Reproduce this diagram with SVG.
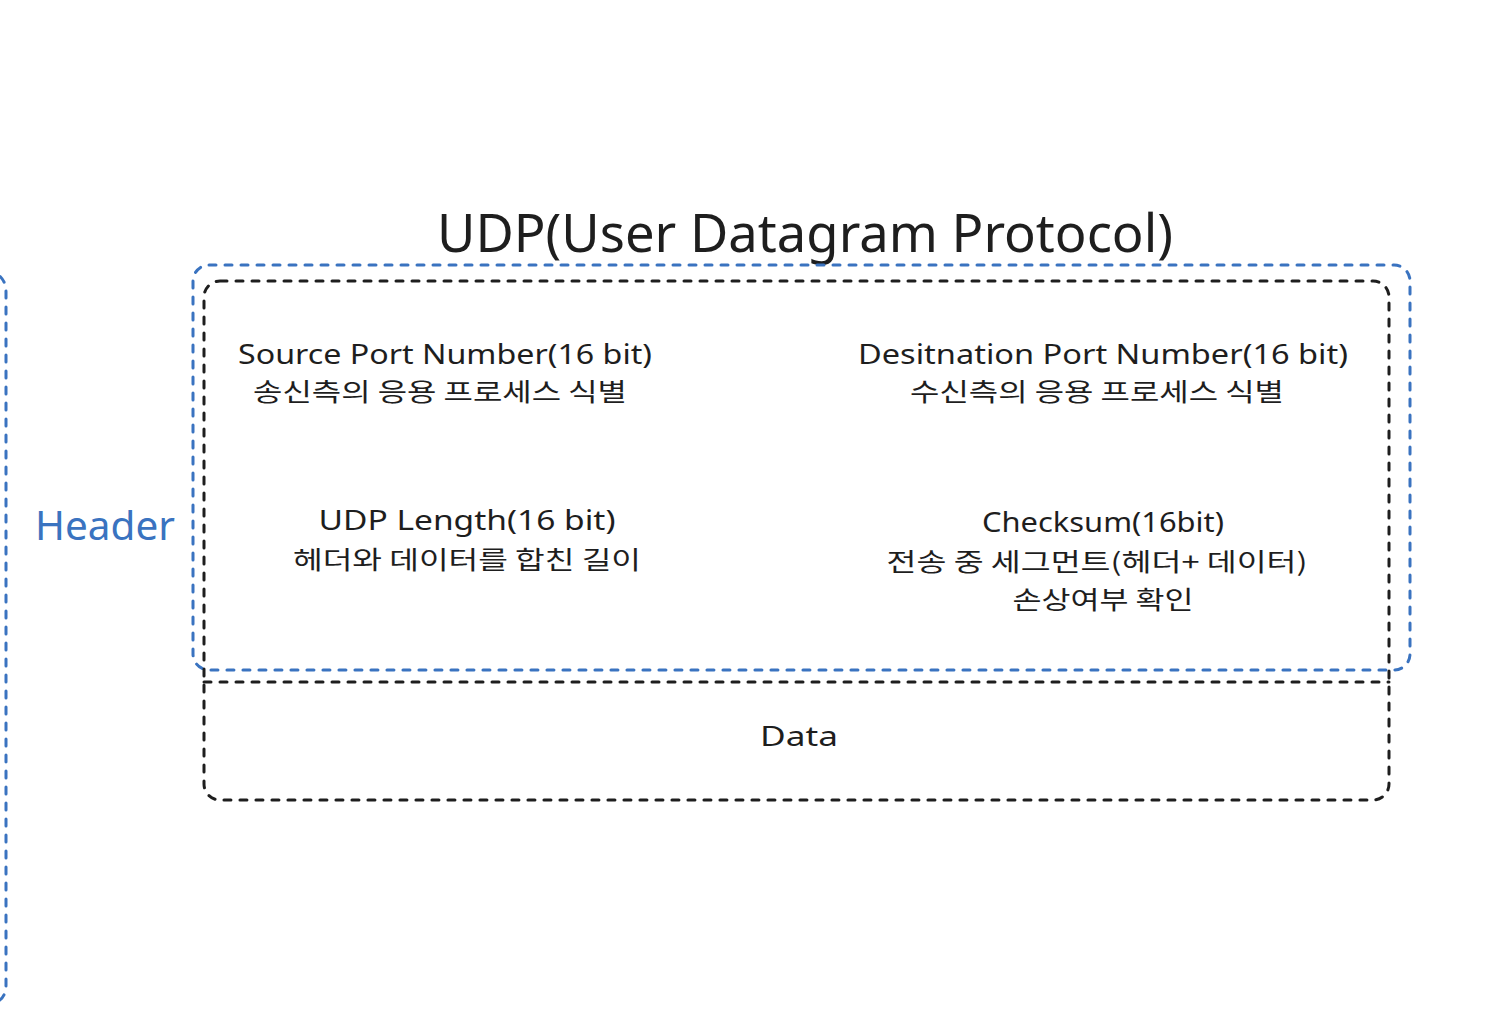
<svg xmlns="http://www.w3.org/2000/svg" width="1510" height="1018" viewBox="0 0 1510 1018">
<style>
  .bl { fill: none; stroke: #3a73c0; stroke-width: 3; stroke-dasharray: 7 9; stroke-linecap: round; stroke-linejoin: round; }
  .bk { fill: none; stroke: #1e1e1e; stroke-width: 3; stroke-dasharray: 7 9; stroke-linecap: round; stroke-linejoin: round; }
  .t { font-family: "Noto Sans", "Noto Sans CJK KR", sans-serif; fill: #1e1e1e; text-anchor: middle; font-size: 27px; }
  .k { font-family: "Noto Sans CJK KR", "Noto Sans", sans-serif; fill: #1e1e1e; text-anchor: middle; font-size: 25px; }
</style>
<rect width="1510" height="1018" fill="#ffffff"/>
<g id="outer-left-frame">
  <path class="bl" d="M -30 268 Q 6 268 6 292 L 6 985 Q 6 1000 -8 1004"/>
</g>
<g id="title">
  <text x="805" y="252" font-family="Noto Sans, sans-serif" font-size="52" fill="#1e1e1e" text-anchor="middle" textLength="736" lengthAdjust="spacingAndGlyphs">UDP(User Datagram Protocol)</text>
</g>
<g id="header-frame">
  <rect class="bl" x="193" y="265" width="1217" height="405" rx="16"/>
  <text x="105" y="540" font-family="Noto Sans, sans-serif" font-size="40" fill="#3a73c0" text-anchor="middle" textLength="140" lengthAdjust="spacingAndGlyphs">Header</text>
</g>
<g id="segment">
  <rect class="bk" x="204" y="281" width="1185" height="519" rx="16"/>
  <path class="bk" d="M 204 682 L 1389 682"/>
</g>
<g id="source-port">
  <text class="t" x="445" y="364" textLength="414" lengthAdjust="spacingAndGlyphs">Source Port Number(16 bit)</text>
  <text class="k" x="440" y="401" textLength="374" lengthAdjust="spacingAndGlyphs">송신측의 응용 프로세스 식별</text>
</g>
<g id="destination-port">
  <text class="t" x="1103" y="364" textLength="490" lengthAdjust="spacingAndGlyphs">Desitnation Port Number(16 bit)</text>
  <text class="k" x="1097" y="401" textLength="374" lengthAdjust="spacingAndGlyphs">수신측의 응용 프로세스 식별</text>
</g>
<g id="udp-length">
  <text class="t" x="467" y="530" textLength="297" lengthAdjust="spacingAndGlyphs">UDP Length(16 bit)</text>
  <text class="k" x="467" y="569" textLength="348" lengthAdjust="spacingAndGlyphs">헤더와 데이터를 합친 길이</text>
</g>
<g id="checksum">
  <text class="t" x="1103" y="532" textLength="242" lengthAdjust="spacingAndGlyphs">Checksum(16bit)</text>
  <text class="k" x="1097" y="571" textLength="421" lengthAdjust="spacingAndGlyphs">전송 중 세그먼트(헤더+ 데이터)</text>
  <text class="k" x="1103" y="609" textLength="181" lengthAdjust="spacingAndGlyphs">손상여부 확인</text>
</g>
<g id="data">
  <text class="t" x="799" y="746" textLength="78" lengthAdjust="spacingAndGlyphs">Data</text>
</g>
<g id="connectors"></g>
</svg>
